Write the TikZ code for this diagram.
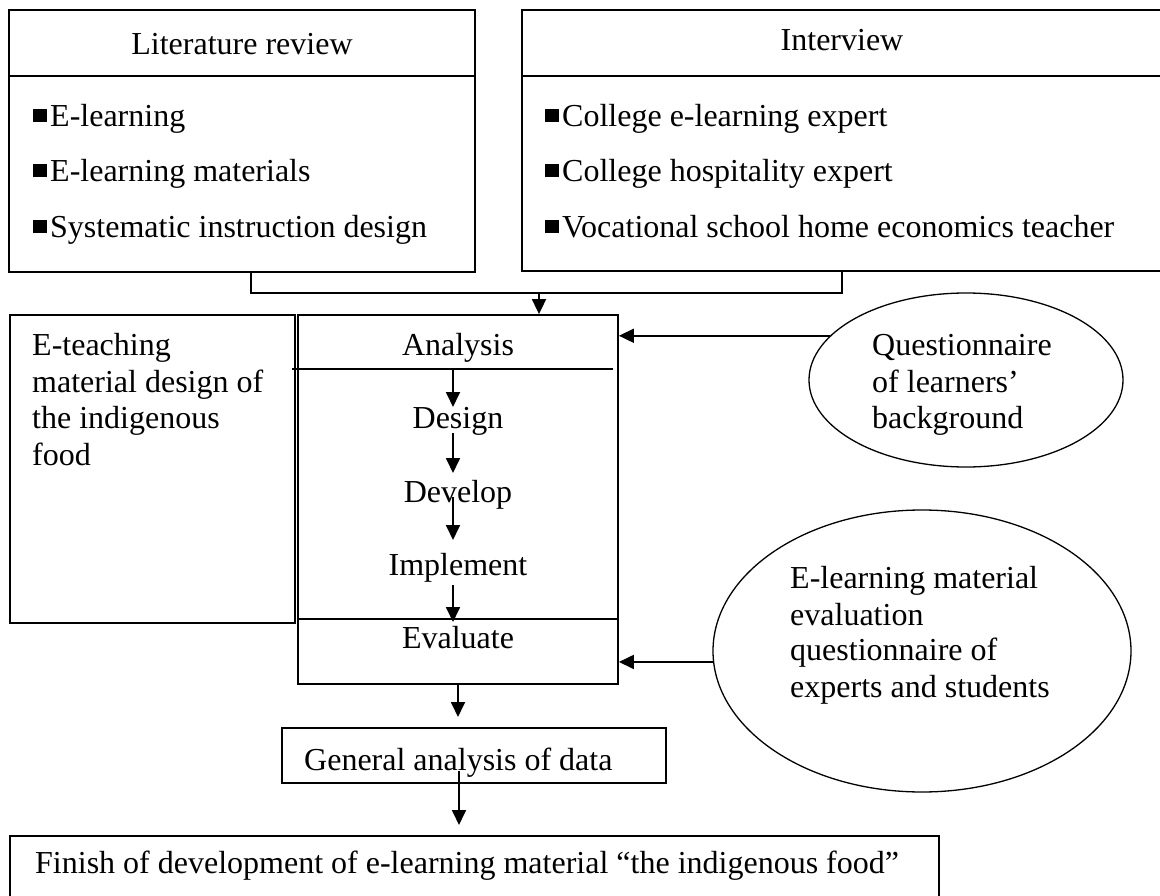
\documentclass[tikz,border=0pt]{standalone}
\usepackage{fontspec}
\setmainfont{Liberation Serif}
\usetikzlibrary{arrows.meta,shapes.geometric}
\newcommand{\myfs}{\fontsize{32}{36.5}\selectfont}
\newcommand{\mybul}{\rule[5pt]{14pt}{13pt}\hspace{3pt}}
\begin{document}
\begin{tikzpicture}[x=1pt,y=-1pt,
  box/.style={draw,line width=1.8pt,fill=white,inner sep=0pt},
  lbl/.style={inner sep=0pt,anchor=base west,font=\myfs},
  ctr/.style={inner sep=0pt,anchor=base,font=\myfs},
  arr/.style={line width=1.8pt,-{Triangle[length=15pt,width=14pt]}},
  ln/.style={line width=1.8pt},
  thin/.style={line width=1.3pt},
  oval/.style={draw,ellipse,line width=1.3pt,fill=white,inner sep=0pt}]
\useasboundingbox (0,0) rectangle (1160,896);
\clip (0,0) rectangle (1160,896);
\fill[white] (0,0) rectangle (1160,896);

% boxes
\node[box,minimum width=466pt,minimum height=262pt] (lit) at (242,141) {};
\node[box,minimum width=640pt,minimum height=261pt] (int) at (842,140.5) {};
\node[box,minimum width=285pt,minimum height=308pt] (eteach) at (152.5,469) {};
\node[box,minimum width=320pt,minimum height=369pt] (proc) at (458,499.5) {};
\node[box,minimum width=384pt,minimum height=55pt] (gen) at (474,755.5) {};
\node[box,minimum width=929pt,minimum height=74pt] (fin) at (474.5,873) {};
\node[oval,minimum width=314pt,minimum height=174pt] (q1) at (966,380) {};
\node[oval,minimum width=418pt,minimum height=282pt] (q2) at (922,651) {};

% dividers
\draw[ln] (lit.west |- 0,76) -- (lit.east |- 0,76);
\draw[ln] (int.west |- 0,76) -- (int.east |- 0,76);
\draw[thin] (292,369) -- (613,369);
\draw[ln] (proc.west |- 0,619) -- (proc.east |- 0,619);

% texts
\node[ctr] (littitle) at (242,55) {Literature review};
\node[lbl] (l1) at (33,127) {\mybul E-learning};
\node[lbl] (l2) at (33,182) {\mybul E-learning materials};
\node[lbl] (l3) at (33,238) {\mybul Systematic instruction design};

\node[ctr] (inttitle) at (842,51) {Interview};
\node[lbl] (i1) at (545,127) {\mybul College e-learning expert};
\node[lbl] (i2) at (545,182) {\mybul College hospitality expert};
\node[lbl] (i3) at (545,238) {\mybul Vocational school home economics teacher};

\node[lbl] (e1) at (32,355) {E-teaching};
\node[lbl] (e2) at (32,392) {material design of};
\node[lbl] (e3) at (32,428) {the indigenous};
\node[lbl] (e4) at (32,465) {food};

\node[ctr] (anl) at (458,355) {Analysis};
\node[ctr] (des) at (458,428) {Design};
\node[ctr] (dev) at (458,502) {Develop};
\node[ctr] (imp) at (458,575) {Implement};
\node[ctr] (eva) at (458,648) {Evaluate};

\node[lbl] (qa) at (872,355) {Questionnaire};
\node[lbl] (qb) at (872,392) {of learners’};
\node[lbl] (qc) at (872,428) {background};

\node[lbl] (qd) at (790,588) {E-learning material};
\node[lbl] (qe) at (790,625) {evaluation};
\node[lbl] (qf) at (790,660) {questionnaire of};
\node[lbl] (qg) at (790,697) {experts and students};

\node[lbl] (gent) at (304,770) {General analysis of data};
\node[lbl] (fint) at (35,873) {Finish of development of e-learning material “the indigenous food”};

% connectors
\coordinate (j) at (539,293);
\draw[ln] ([xshift=9pt]lit.south) |- (j) -| (int.south);
\draw[arr] (j) -- (j |- proc.north);

\coordinate (a1s) at (453,369);
\coordinate (a1e) at (453,407);
\coordinate (a2s) at (453,433);
\coordinate (a2e) at (453,473);
\coordinate (a3s) at (453,497);
\coordinate (a3e) at (453,540);
\coordinate (a4s) at (453,585);
\coordinate (a4e) at (453,622);
\draw[arr] (a1s) -- (a1e);
\draw[arr] (a2s) -- (a2e);
\draw[arr] (a3s) -- (a3e);
\draw[arr] (a4s) -- (a4e);

\draw[arr] (q1.162.5) -- (q1.162.5 -| proc.east);
\draw[arr] (q2.183) -- (q2.183 -| proc.east);

\coordinate (g1) at (459,717);
\draw[arr] (proc.south) -- (proc.south |- g1);
\coordinate (g2s) at (459,771);
\coordinate (g2e) at (459,825);
\draw[arr] (g2s) -- (g2e);
\end{tikzpicture}
\end{document}
